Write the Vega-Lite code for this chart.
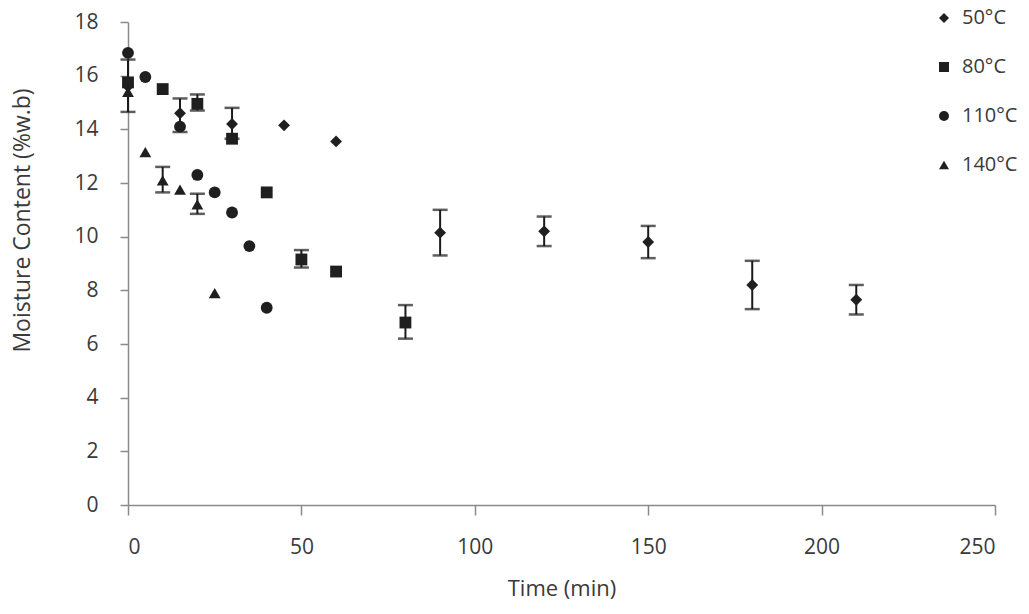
{
  "$schema": "https://vega.github.io/schema/vega-lite/v6.json",
  "width": 867,
  "height": 483,
  "autosize": {"type": "none"},
  "padding": {"left": 128, "top": 22, "right": 34, "bottom": 109},
  "background": "white",
  "config": {
    "font": "Open Sans",
    "view": {"stroke": null},
    "axis": {
      "grid": false,
      "domainColor": "#8a8a8a",
      "tickColor": "#8a8a8a",
      "domainWidth": 1.5,
      "tickWidth": 1.5,
      "labelColor": "#3a3a3a",
      "titleColor": "#3a3a3a",
      "labelFontSize": 21,
      "titleFontSize": 22,
      "titleFontWeight": "normal",
      "labelFont": "Open Sans",
      "titleFont": "Open Sans"
    },
    "legend": {"labelFont": "Open Sans"}
  },
  "data": {
    "values": [
      {"series": "50°C", "t": 0, "mc": 15.6, "lo": 14.65, "hi": 16.6},
      {"series": "50°C", "t": 15, "mc": 14.6, "lo": 13.9, "hi": 15.15},
      {"series": "50°C", "t": 30, "mc": 14.2, "lo": 13.65, "hi": 14.8},
      {"series": "50°C", "t": 45, "mc": 14.15, "lo": null, "hi": null},
      {"series": "50°C", "t": 60, "mc": 13.55, "lo": null, "hi": null},
      {"series": "50°C", "t": 90, "mc": 10.15, "lo": 9.3, "hi": 11.0},
      {"series": "50°C", "t": 120, "mc": 10.2, "lo": 9.65, "hi": 10.75},
      {"series": "50°C", "t": 150, "mc": 9.8, "lo": 9.2, "hi": 10.4},
      {"series": "50°C", "t": 180, "mc": 8.2, "lo": 7.3, "hi": 9.1},
      {"series": "50°C", "t": 210, "mc": 7.65, "lo": 7.1, "hi": 8.2},
      {"series": "80°C", "t": 0, "mc": 15.75, "lo": null, "hi": null},
      {"series": "80°C", "t": 10, "mc": 15.5, "lo": null, "hi": null},
      {"series": "80°C", "t": 20, "mc": 14.95, "lo": 14.7, "hi": 15.3},
      {"series": "80°C", "t": 30, "mc": 13.65, "lo": null, "hi": null},
      {"series": "80°C", "t": 40, "mc": 11.65, "lo": null, "hi": null},
      {"series": "80°C", "t": 50, "mc": 9.15, "lo": 8.85, "hi": 9.5},
      {"series": "80°C", "t": 60, "mc": 8.7, "lo": null, "hi": null},
      {"series": "80°C", "t": 80, "mc": 6.8, "lo": 6.2, "hi": 7.45},
      {"series": "110°C", "t": 0, "mc": 16.85, "lo": null, "hi": null},
      {"series": "110°C", "t": 5, "mc": 15.95, "lo": null, "hi": null},
      {"series": "110°C", "t": 15, "mc": 14.1, "lo": null, "hi": null},
      {"series": "110°C", "t": 20, "mc": 12.3, "lo": null, "hi": null},
      {"series": "110°C", "t": 25, "mc": 11.65, "lo": null, "hi": null},
      {"series": "110°C", "t": 30, "mc": 10.9, "lo": null, "hi": null},
      {"series": "110°C", "t": 35, "mc": 9.65, "lo": null, "hi": null},
      {"series": "110°C", "t": 40, "mc": 7.35, "lo": null, "hi": null},
      {"series": "140°C", "t": 0, "mc": 15.4, "lo": null, "hi": null},
      {"series": "140°C", "t": 5, "mc": 13.15, "lo": null, "hi": null},
      {"series": "140°C", "t": 10, "mc": 12.1, "lo": 11.65, "hi": 12.6},
      {"series": "140°C", "t": 15, "mc": 11.75, "lo": null, "hi": null},
      {"series": "140°C", "t": 20, "mc": 11.2, "lo": 10.85, "hi": 11.6},
      {"series": "140°C", "t": 25, "mc": 7.9, "lo": null, "hi": null}
    ]
  },
  "encoding": {
    "x": {
      "field": "t",
      "type": "quantitative",
      "scale": {"domain": [0, 250], "nice": false, "zero": true},
      "axis": {
        "title": "Time (min)",
        "values": [0, 50, 100, 150, 200, 250],
        "tickSize": 10,
        "labelPadding": 21,
        "titlePadding": 21
      }
    }
  },
  "layer": [
    {
      "transform": [{"filter": "datum.lo != null"}],
      "mark": {"type": "rule", "color": "#1a1a1a", "strokeWidth": 2},
      "encoding": {
        "y": {"field": "lo", "type": "quantitative", "scale": {"domain": [0, 18], "nice": false}, "title": "Moisture Content (%w.b)"},
        "y2": {"field": "hi"}
      }
    },
    {
      "transform": [{"filter": "datum.lo != null"}],
      "mark": {"type": "tick", "orient": "horizontal", "color": "#1a1a1a", "size": 15, "thickness": 2.5},
      "encoding": {
        "y": {"field": "lo", "type": "quantitative", "title": "Moisture Content (%w.b)"}
      }
    },
    {
      "transform": [{"filter": "datum.lo != null"}],
      "mark": {"type": "tick", "orient": "horizontal", "color": "#1a1a1a", "size": 15, "thickness": 2.5},
      "encoding": {
        "y": {"field": "hi", "type": "quantitative", "title": "Moisture Content (%w.b)"}
      }
    },
    {
      "mark": {"type": "point", "filled": true, "color": "#1f1f1f", "size": 140, "opacity": 1},
      "encoding": {
        "y": {
          "field": "mc",
          "type": "quantitative",
          "title": "Moisture Content (%w.b)",
          "axis": {
            "values": [0, 2, 4, 6, 8, 10, 12, 14, 16, 18],
            "tickSize": 8,
            "labelPadding": 22,
            "titleFontSize": 23,
            "titleAngle": -90,
            "titleAlign": "center",
            "titleBaseline": "middle",
            "titleX": -106,
            "titleY": 198
          }
        },
        "shape": {
          "field": "series",
          "type": "nominal",
          "scale": {
            "domain": ["50°C", "80°C", "110°C", "140°C"],
            "range": ["diamond", "square", "circle", "triangle-up"]
          },
          "legend": {
            "title": null,
            "orient": "none",
            "legendX": 806,
            "legendY": -14,
            "symbolSize": 100,
            "symbolFillColor": "#1f1f1f",
            "symbolStrokeColor": "#1f1f1f",
            "labelFontSize": 20,
            "labelColor": "#3a3a3a",
            "labelOffset": 8,
            "rowPadding": 29
          }
        }
      }
    }
  ]
}
